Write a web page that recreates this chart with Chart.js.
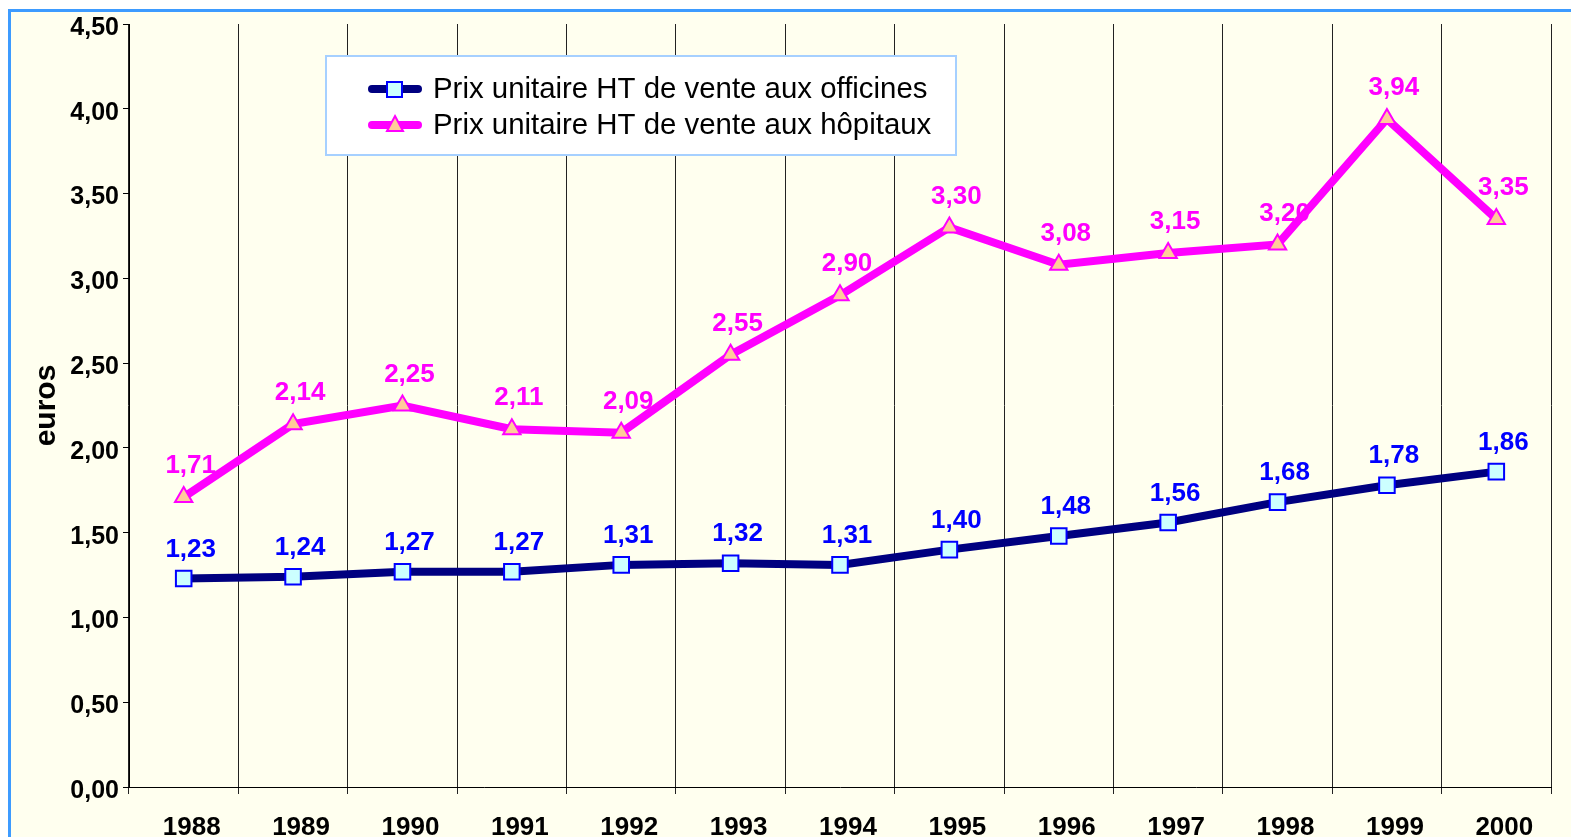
<!DOCTYPE html>
<html>
<head>
<meta charset="utf-8">
<script src="https://cdn.jsdelivr.net/npm/chart.js@4/dist/chart.umd.min.js"></script>
<style>
  html, body { margin: 0; padding: 0; background: #fff; overflow: hidden; }
  #frame { position: absolute; left: 8px; top: 9px; width: 1600px; height: 900px;
           border: 3px solid #3d9bff; background: #ffffef; }
  #chart { position: absolute; left: 0; top: 0; }
</style>
</head>
<body>
<div id="frame"></div>
<canvas id="chart" width="1571" height="837"></canvas>
<script>
var years = ['1988','1989','1990','1991','1992','1993','1994','1995','1996','1997','1998','1999','2000'];
var officines = [1.23, 1.24, 1.27, 1.27, 1.31, 1.32, 1.31, 1.40, 1.48, 1.56, 1.68, 1.78, 1.86];
var hopitaux  = [1.71, 2.14, 2.25, 2.11, 2.09, 2.55, 2.90, 3.30, 3.08, 3.15, 3.20, 3.94, 3.35];
var seriesNames = ['Prix unitaire HT de vente aux officines', 'Prix unitaire HT de vente aux hôpitaux'];

var FONT = '"Liberation Sans", Arial, sans-serif';

function fr(v) { return Number(v).toFixed(2).replace('.', ','); }

// value labels above each point
var valueLabels = {
    id: 'valueLabels',
    afterDatasetsDraw: function(chart) {
        var ctx = chart.ctx;
        chart.data.datasets.forEach(function(ds, i) {
            var meta = chart.getDatasetMeta(i);
            ctx.save();
            ctx.font = 'bold 26px ' + FONT;
            ctx.fillStyle = ds.labelColor;
            ctx.textAlign = 'center';
            ctx.textBaseline = 'middle';
            meta.data.forEach(function(pt, j) {
                ctx.fillText(fr(ds.data[j]), pt.x + 7, pt.y + ds.labelDy);
            });
            ctx.restore();
        });
    }
};

// boxed legend inside the plot
var boxLegend = {
    id: 'boxLegend',
    afterDraw: function(chart) {
        var ctx = chart.ctx;
        var x0 = 326, y0 = 56, w = 630, h = 99;
        ctx.save();
        ctx.fillStyle = '#ffffff';
        ctx.fillRect(x0, y0, w, h);
        ctx.strokeStyle = '#a6d0ff';
        ctx.lineWidth = 2;
        ctx.strokeRect(x0, y0, w, h);
        chart.data.datasets.forEach(function(ds, i) {
            var y = 89 + i * 36;
            ctx.strokeStyle = ds.borderColor;
            ctx.lineWidth = 8;
            ctx.lineCap = 'round';
            ctx.beginPath();
            ctx.moveTo(372, y); ctx.lineTo(418, y);
            ctx.stroke();
            ctx.lineCap = 'butt';
            ctx.lineWidth = 2;
            ctx.fillStyle = ds.pointBackgroundColor;
            ctx.strokeStyle = ds.pointBorderColor;
            ctx.beginPath();
            if (ds.pointStyle === 'rect') {
                ctx.rect(387, y - 7, 15, 15);
            } else {
                ctx.moveTo(395, y - 9); ctx.lineTo(403, y + 6); ctx.lineTo(387, y + 6); ctx.closePath();
            }
            ctx.fill(); ctx.stroke();
            ctx.fillStyle = '#000';
            ctx.font = '29.4px ' + FONT;
            ctx.textBaseline = 'middle';
            ctx.fillText(ds.label, 433, y + 1);
        });
        ctx.restore();
    }
};

var chart = new Chart(document.getElementById('chart').getContext('2d'), {
    type: 'line',
    data: {
        labels: years,
        datasets: [{
            label: seriesNames[0],
            data: officines,
            borderColor: '#000080',
            borderWidth: 8,
            pointStyle: 'rect',
            pointRadius: 11,
            pointBorderWidth: 2,
            pointBackgroundColor: '#ccffff',
            pointBorderColor: '#0000ff',
            labelColor: '#0000ff',
            labelDy: -29,
            tension: 0
        }, {
            label: seriesNames[1],
            data: hopitaux,
            borderColor: '#ff00ff',
            borderWidth: 8,
            pointStyle: 'triangle',
            pointRadius: 10,
            pointBorderWidth: 2,
            pointBackgroundColor: '#ffcc99',
            pointBorderColor: '#ff00ff',
            labelColor: '#ff00ff',
            labelDy: -31,
            tension: 0
        }]
    },
    options: {
        responsive: false,
        animation: false,
        layout: { padding: { left: 29, right: 20, top: 24, bottom: 0 } },
        plugins: { legend: { display: false }, tooltip: { enabled: false } },
        scales: {
            x: {
                offset: true,
                grid: { offset: true, color: '#222', lineWidth: 1, tickLength: 7, drawTicks: true },
                border: { color: '#000', width: 1 },
                ticks: { color: '#000', font: { family: FONT, size: 26, weight: 'bold' },
                         padding: 18, maxRotation: 0, labelOffset: 8 },
                afterFit: function(s) { s.height = 50; }
            },
            y: {
                min: 0, max: 4.5,
                ticks: { stepSize: 0.5, color: '#000', padding: 4, labelOffset: 4,
                         font: { family: FONT, size: 25, weight: 'bold' },
                         callback: function(v) { return fr(v); } },
                grid: { drawOnChartArea: false, drawTicks: true, tickLength: 6, color: '#000' },
                border: { color: '#000', width: 1 },
                title: { display: true, text: 'euros', color: '#000', padding: 0,
                         font: { family: FONT, size: 30, weight: 'bold' } },
                afterFit: function(s) { s.width = 100; }
            }
        }
    },
    plugins: [valueLabels, boxLegend]
});
</script>
</body>
</html>
